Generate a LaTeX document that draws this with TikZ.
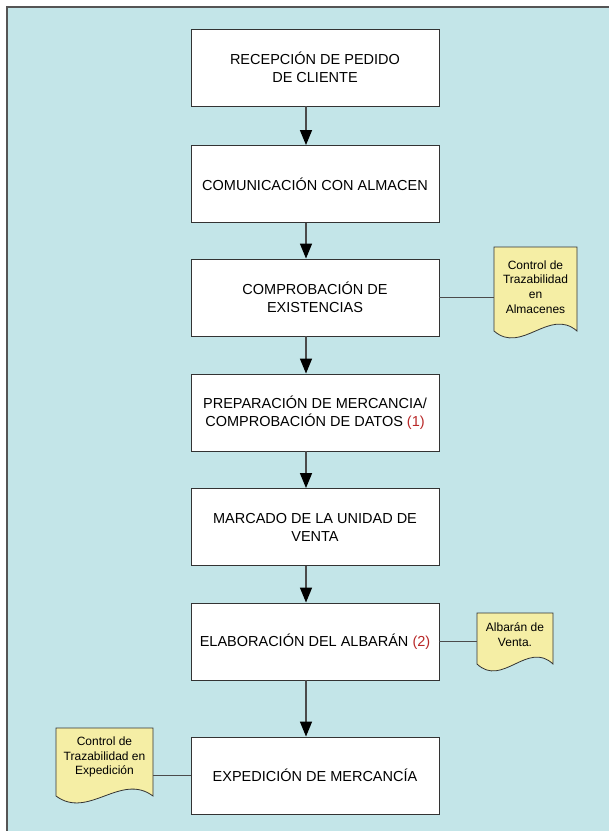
\documentclass[tikz,border=0pt]{standalone}
\usepackage{fontspec}
\setmainfont{Liberation Sans}
\usetikzlibrary{arrows.meta}
\definecolor{bgblue}{RGB}{195,229,232}
\definecolor{docyellow}{RGB}{245,238,165}
\definecolor{framegray}{RGB}{85,85,85}
\definecolor{linegray}{RGB}{75,75,75}
\definecolor{numred}{RGB}{185,40,40}
\tikzset{
  procbox/.style={draw=black!80, fill=white, line width=0.9pt,
    minimum width=248pt, minimum height=77pt, inner sep=0pt, align=center,
    font=\fontsize{14.5}{18}\selectfont},
  doctext/.style={inner sep=0pt, align=center, font=\fontsize{12}{14.8}\selectfont},
  docshape/.style={draw=black!80, fill=docyellow, line width=0.8pt},
  flow/.style={draw=linegray, line width=1.4pt,
    -{Triangle[width=12pt,length=15pt,color=black]}},
  link/.style={draw=linegray, line width=1.1pt}
}
\begin{document}
\begin{tikzpicture}[x=1pt,y=-1pt]
\useasboundingbox (0,0) rectangle (609,831);
% background frame
\fill[white] (0,0) rectangle (609,831);
\fill[bgblue] (7,7) rectangle (609,831);
\draw[framegray, line width=1.6pt] (7,831) -- (7,7) -- (609,7);

% process boxes
\node[procbox] (b1) at (315,67.5) {RECEPCIÓN DE PEDIDO\\DE CLIENTE};
\node[procbox] (b2) at (315,184) {COMUNICACIÓN CON ALMACEN};
\node[procbox] (b3) at (315,297.5) {COMPROBACIÓN DE\\EXISTENCIAS};
\node[procbox] (b4) at (315,412.5) {PREPARACIÓN DE MERCANCIA/\\COMPROBACIÓN DE DATOS \textcolor{numred}{(1)}};
\node[procbox] (b5) at (315,527) {MARCADO DE LA UNIDAD DE\\VENTA};
\node[procbox] (b6) at (315,641.5) {ELABORACIÓN DEL ALBARÁN \textcolor{numred}{(2)}};
\node[procbox] (b7) at (315,775.5) {EXPEDICIÓN DE MERCANCÍA};

% flow arrows
\foreach \a/\b in {b1/b2,b2/b3,b3/b4,b4/b5,b5/b6,b6/b7}
  \draw[flow] ([xshift=-9pt]\a.south) -- ([xshift=-9pt]\b.north);

% document shapes
\draw[docshape] (494,247) -- (577,247) -- (577,331)
  .. controls (549.3,307) and (521.7,355) .. (494,331) -- cycle;
\draw[docshape] (477,613) -- (553,613) -- (553,664)
  .. controls (527.7,640) and (502.3,688) .. (477,664) -- cycle;
\draw[docshape] (56,728) -- (153,728) -- (153,796)
  .. controls (120.7,772) and (88.3,820) .. (56,796) -- cycle;

\node[doctext, minimum width=83pt] (d1) at (535.5,287) {Control de\\Trazabilidad\\en\\Almacenes};
\node[doctext, minimum width=76pt] (d2) at (515,635) {Albarán de\\Venta.};
\node[doctext, minimum width=97pt] (d3) at (104.5,757) {Control de\\Trazabilidad en\\Expedición};

% links
\draw[link] (b3.east) -- (b3.east -| d1.west);
\draw[link] (b6.east) -- (b6.east -| d2.west);
\draw[link] (b7.west) -- (b7.west -| d3.east);
\end{tikzpicture}
\end{document}
